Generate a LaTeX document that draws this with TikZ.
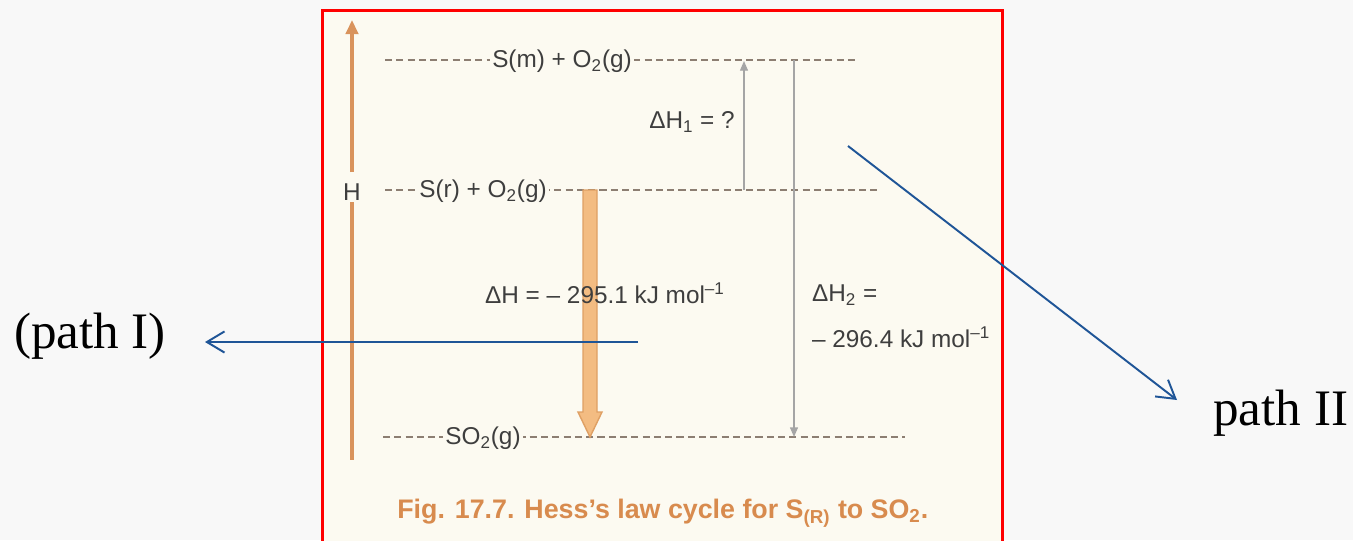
\documentclass[tikz,border=0pt]{standalone}
\usepackage{fontspec}
\setmainfont{Liberation Serif}
\setsansfont{Liberation Sans}
\usetikzlibrary{arrows.meta}
\definecolor{bg}{HTML}{F8F8F8}
\definecolor{cream}{HTML}{FCFAF1}
\definecolor{boxred}{HTML}{FF0000}
\definecolor{harrow}{HTML}{D9935C}
\definecolor{bigfill}{HTML}{F3BC82}
\definecolor{bigedge}{HTML}{DFA064}
\definecolor{dashc}{HTML}{8C7E72}
\definecolor{txt}{HTML}{3E3E3E}
\definecolor{thinc}{HTML}{A5A5A5}
\definecolor{blueone}{HTML}{1F5597}
\definecolor{capc}{HTML}{D88B4E}
\begin{document}
\begin{tikzpicture}[x=0.567pt,y=-0.567pt,
  levelline/.style={draw=dashc, line width=0.8pt, dash pattern=on 4pt off 2.4pt},
  lvl/.style={fill=cream, inner sep=1.5pt, text=txt, font=\sffamily\fontsize{13.8}{16}\selectfont},
  lab/.style={inner sep=1pt, text=txt, font=\sffamily\fontsize{13.8}{16}\selectfont},
  harrowline/.style={draw=harrow, line width=2pt},
  bigarrow/.style={fill=bigfill, draw=bigedge, line width=0.8pt},
  thinarrow/.style={draw=thinc, line width=0.8pt, -{Triangle[length=5.5pt,width=4.5pt]}},
  bluearrow/.style={draw=blueone, line width=1.1pt, -{Straight Barb[length=10pt,width=12pt,line width=1.1pt]}},
  pathlab/.style={inner sep=0pt, font=\fontsize{29}{32}\selectfont},
  caption/.style={inner sep=0pt, text=capc, font=\sffamily\bfseries\fontsize{15.2}{17}\selectfont}]
\useasboundingbox (0,0) rectangle (1353,540);
\fill[bg] (0,0) rectangle (1353,540);
\begin{scope}
  \clip (0,0) rectangle (1353,540);
  \draw[boxred, line width=1.7pt, fill=cream] (322,10) rectangle (1002,570);
\end{scope}

% enthalpy axis
\node[lab] (hl) at (352,192) {H};
\coordinate (htop) at (352,20);
\coordinate (hbot) at (352,460);
\draw[harrowline, -{Triangle[length=8pt,width=7pt]}] (352,172) -- (htop);
\draw[harrowline] (hl.south) -- (hbot);

% levels
\draw[levelline] (385,60) -- (857,60);
\draw[levelline] (385,190) -- (877,190);
\draw[levelline] (383,437) -- (905,437);
\node[lvl] (lm) at (562,61) {S(m) + O\textsubscript{2}(g)};
\node[lvl] (lr) at (483,191) {S(r) + O\textsubscript{2}(g)};
\node[lvl] (ls) at (483,438) {SO\textsubscript{2}(g)};

% big arrow (path I)
\coordinate (ba) at (590,190);
\coordinate (bb) at (590,437);
\filldraw[bigarrow] (ba) ++(-7,0) -- ++(14,0) -- ++(0,222) -- ++(5,0) -- (bb) -- ++(-12,-25) -- ++(5,0) -- cycle;

% thin arrows (path II)
\coordinate (d1b) at (744,190);
\coordinate (d1t) at (744,61);
\draw[thinarrow] (d1b) -- (d1t);
\coordinate (d2t) at (794,60);
\coordinate (d2b) at (794,437);
\draw[thinarrow] (d2t) -- (d2b);

% labels
\node[lab] (dh1) at (692,122) {ΔH\textsubscript{1} = ?};
\node[lab, anchor=west] (dh) at (483,293) {ΔH = \textendash\ 295.1 kJ mol\textsuperscript{\textendash1}};
\node[lab, anchor=west] (dh2a) at (810,295) {ΔH\textsubscript{2} =};
\node[lab, anchor=west] (dh2b) at (810,337) {\textendash\ 296.4 kJ mol\textsuperscript{\textendash1}};
\node[caption, anchor=west] (cap) at (397,513) {Fig. 17.7. Hess's law cycle for S\textsubscript{(R)} to SO\textsubscript{2}.};

% annotations
\node[pathlab] (p1) at (90,336) {(path I)};
\coordinate (p1s) at (638,342);
\coordinate (p1e) at (205,342);
\draw[bluearrow] (p1s) -- (p1e);
\node[pathlab, anchor=west] (p2) at (1213,413) {path II};
\coordinate (p2s) at (848,146);
\coordinate (p2e) at (1177,400);
\draw[bluearrow] (p2s) -- (p2e);
\end{tikzpicture}
\end{document}
